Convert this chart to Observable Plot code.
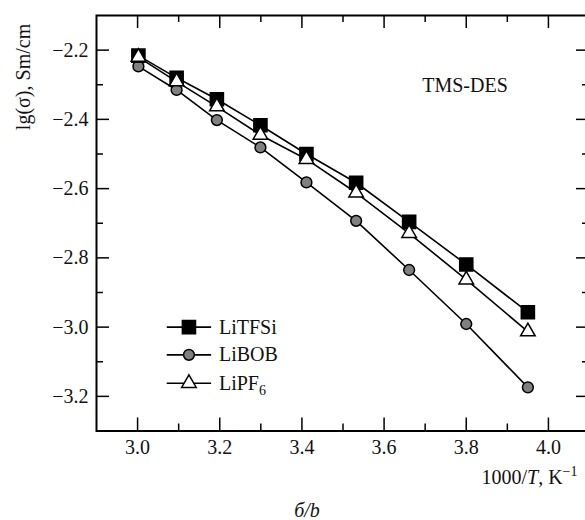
<!DOCTYPE html>
<html><head><meta charset="utf-8">
<script src="https://cdn.jsdelivr.net/npm/d3@7"></script>
<script src="https://cdn.jsdelivr.net/npm/@observablehq/plot@0.6"></script>
<style>html,body{margin:0;padding:0;background:#fff;overflow:hidden}
#chart svg, #chart svg text{font-family:"Liberation Serif","Times New Roman",serif !important}</style>
</head><body><div id="chart"></div>
<script>
// 1000/T, K^-1
const invT = [3.002, 3.095, 3.193, 3.299, 3.411, 3.532, 3.661, 3.800, 3.950];
// lg(sigma) series
const sLiTFSi = [-2.216, -2.280, -2.342, -2.417, -2.500, -2.583, -2.696, -2.819, -2.957];
const sLiBOB  = [-2.247, -2.315, -2.402, -2.481, -2.582, -2.693, -2.835, -2.991, -3.174];
const sLiPF6  = [-2.220, -2.291, -2.363, -2.445, -2.515, -2.612, -2.729, -2.863, -3.013];
const seriesNames = ["LiTFSi", "LiBOB", "LiPF6"];
const xMajor = [3.0, 3.2, 3.4, 3.6, 3.8, 4.0];
const xMinor = [3.1, 3.3, 3.5, 3.7, 3.9];
const yMajor = [-3.2, -3.0, -2.8, -2.6, -2.4, -2.2];
const yMinor = [-3.1, -2.9, -2.7, -2.5, -2.3];
const annotation = "TMS-DES";
const xLabel = "1000/T, K−1";
const yLabel = "lg(σ), Sm/cm";
const caption = "б/b";

// layout
const W = 585, H = 520, mL = 96, mR = -4, mT = 15, mB = 89.5;
const pw = W - mL - mR, ph = H - mT - mB;
const majorLen = 13, minorLen = 7;

const seriesValues = [sLiTFSi, sLiBOB, sLiPF6];
const rows = seriesNames.flatMap((s, k) => invT.map((x, i) => ({series: s, x, y: seriesValues[k][i]})));
const style = {
  LiTFSi: {symbol: "square", fill: "black", r: 7.4},
  LiBOB: {symbol: "circle", fill: "#808080", r: 5.4},
  LiPF6: {symbol: "triangle", fill: "white", r: 5.4}
};
// legend layout (data coordinates)
const legendY = [-3.0, -3.08, -3.162];
const legendX1 = 3.071, legendX2 = 3.179, legendXm = 3.125, legendXt = 3.198;
const legendRows = seriesNames.map((s, i) => ({series: s, y: legendY[i]}));

const FONT = "Liberation Serif";
const drawOrder = ["LiBOB", "LiTFSi", "LiPF6"];
const marks = [
  Plot.frame({strokeWidth: 2}),
  Plot.ruleY(yMajor, {insetRight: pw - majorLen, strokeWidth: 1.5}),
  Plot.ruleY(yMinor, {insetRight: pw - minorLen, strokeWidth: 1.5}),
  Plot.ruleY(yMajor, {insetLeft: pw - majorLen, strokeWidth: 1.5}),
  Plot.ruleY(yMinor, {insetLeft: pw - minorLen, strokeWidth: 1.5}),
  Plot.ruleX(xMajor, {insetTop: ph - majorLen, strokeWidth: 1.5}),
  Plot.ruleX(xMinor, {insetTop: ph - minorLen, strokeWidth: 1.5}),
  Plot.ruleX(xMajor, {insetBottom: ph - majorLen, strokeWidth: 1.5}),
  Plot.ruleX(xMinor, {insetBottom: ph - minorLen, strokeWidth: 1.5}),
  Plot.axisX({ticks: xMajor, tickSize: 0, tickPadding: 9, tickFormat: d3.format(".1f"), label: null, fill: "#111", fontFamily: FONT}),
  Plot.axisY({ticks: yMajor, tickSize: 0, tickPadding: 8, tickFormat: d3.format(".1f"), label: null, fill: "#111", fontFamily: FONT}),
  ...seriesNames.map(s => Plot.line(rows.filter(d => d.series === s), {x: "x", y: "y", stroke: "black", strokeWidth: 1.6})),
  ...drawOrder.map(s => Plot.dot(rows.filter(d => d.series === s), {x: "x", y: "y", symbol: style[s].symbol, r: style[s].r, fill: style[s].fill, stroke: "black", strokeWidth: 1.5})),
  // legend
  Plot.link(legendRows, {x1: () => legendX1, x2: () => legendX2, y1: "y", y2: "y", stroke: "black", strokeWidth: 1.6}),
  ...seriesNames.map(s => Plot.dot(legendRows.filter(d => d.series === s), {x: () => legendXm, y: "y", symbol: style[s].symbol, r: style[s].r, fill: style[s].fill, stroke: "black", strokeWidth: 1.5})),
  Plot.text(legendRows, {x: () => legendXt, y: "y", text: "series", textAnchor: "start", lineAnchor: "middle", fontSize: 20, fill: "#111", fontFamily: FONT}),
  // annotations
  Plot.text([annotation], {frameAnchor: "top-left", dx: 325.7, dy: 76.7, text: d => d, textAnchor: "start", lineAnchor: "bottom", fontSize: 20, fill: "#111", fontFamily: FONT}),
  Plot.text([xLabel], {frameAnchor: "bottom-left", dx: 481, dy: 52.5, text: d => d, textAnchor: "end", lineAnchor: "bottom", fontSize: 20, fill: "#111", fontFamily: FONT}),
  Plot.text([yLabel], {frameAnchor: "top-left", dx: -66.5, dy: 8.3, rotate: -90, text: d => d, textAnchor: "end", lineAnchor: "bottom", fontSize: 20, fill: "#111", fontFamily: FONT}),
  Plot.text([caption], {frameAnchor: "bottom-left", dx: 210.5, dy: 85.5, text: d => d, textAnchor: "middle", lineAnchor: "bottom", fontSize: 20, fontStyle: "italic", fill: "#111", fontFamily: FONT})
];

const svg = Plot.plot({
  width: W, height: H,
  marginLeft: mL, marginRight: mR, marginTop: mT, marginBottom: mB,
  x: {domain: [2.9, 4.1]},
  y: {domain: [-3.3, -2.1]},
  style: {fontFamily: FONT, fontSize: "20px", overflow: "hidden", background: "white"},
  marks
});

d3.select(svg).selectAll("text").each(function () {
  const t = this.textContent;
  const sel = d3.select(this);
  if (t === "LiPF6") {
    this.textContent = "LiPF";
    sel.append("tspan").attr("dy", 5).attr("font-size", 14).text("6");
  } else if (t === xLabel) {
    this.textContent = "1000/";
    sel.append("tspan").attr("font-style", "italic").text("T");
    sel.append("tspan").text(", K");
    sel.append("tspan").attr("dy", -8).attr("font-size", 14).text("−1");
  }
});

document.getElementById("chart").appendChild(svg);
</script>
</body></html>
